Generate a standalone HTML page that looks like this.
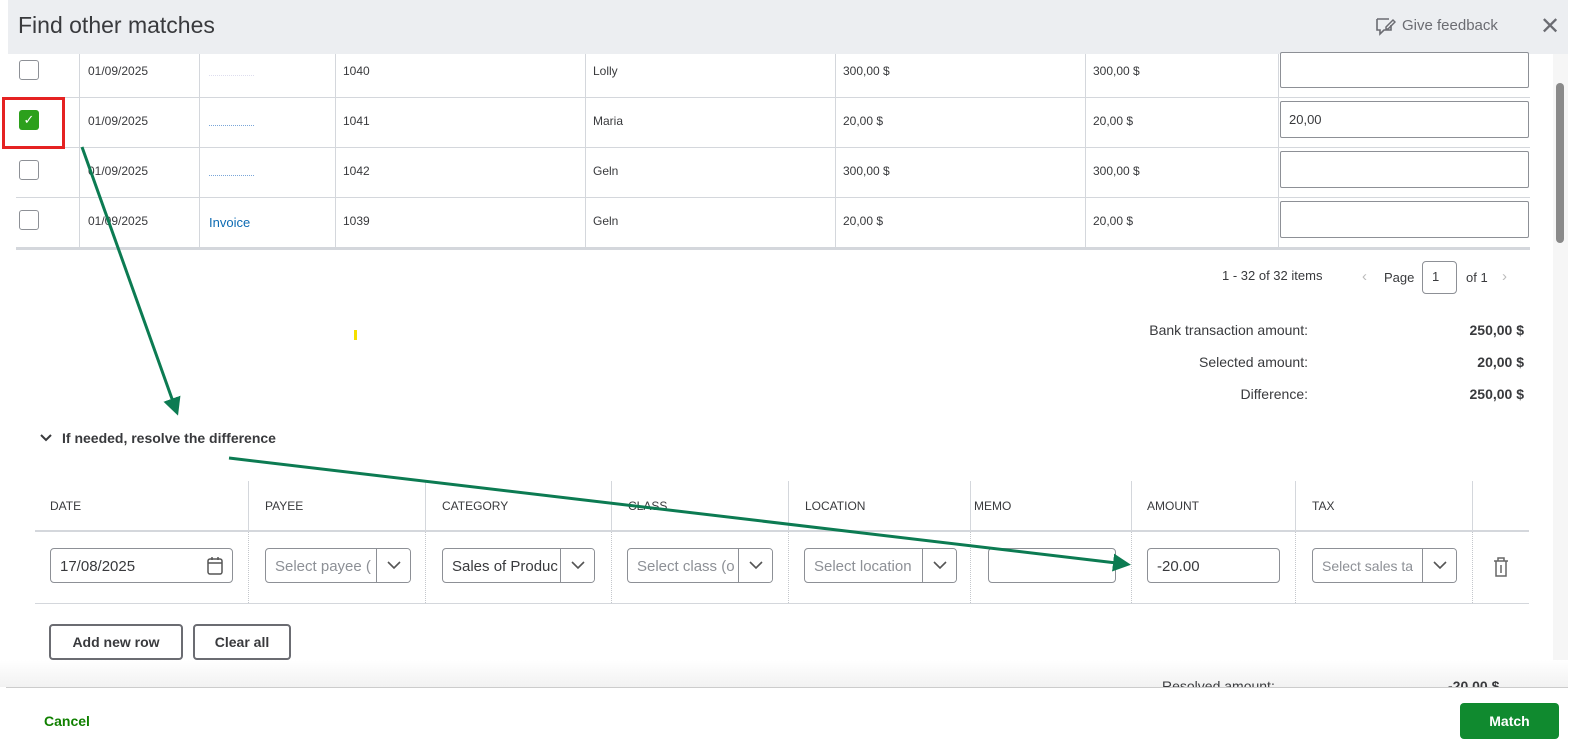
<!DOCTYPE html>
<html><head><meta charset="utf-8"><style>
*{box-sizing:border-box;margin:0;padding:0}
body{width:1588px;height:748px;position:relative;overflow:hidden;background:#fff;font-family:"Liberation Sans",sans-serif;color:#393a3d}
.a{position:absolute}
.t{font-size:12px;color:#393a3d;white-space:nowrap}
.hl{position:absolute;height:1px;background:#d4d7dc}
.vl{position:absolute;width:1px;background:#d4d7dc}
.cb{position:absolute;width:20px;height:20px;border:1px solid #8d9096;border-radius:3px;background:#fff}
.inp{position:absolute;border:1px solid #8d9096;border-radius:2px;background:#fff}
.sel{position:absolute;border:1px solid #8d9096;border-radius:4px;background:#fff;font-size:15px;color:#8d9096;padding:9px 0 0 9px;white-space:nowrap;overflow:hidden}
.sel .dd{position:absolute;right:0;top:0;width:34px;height:100%;border-left:1px solid #8d9096;background:#fff}
.sel .dd svg{position:absolute;left:10px;top:11px}
.dv{position:absolute;width:1px;border-left:1px dotted #c4c7cc}
.th{position:absolute;font-size:12px;color:#393a3d;top:499px}
.bt{position:absolute;border:2px solid #6b6c72;border-radius:4px;font-size:14px;font-weight:bold;text-align:center;padding-top:8px;color:#393a3d;height:36px}
.lb{position:absolute;font-size:14px;text-align:right;width:300px;color:#393a3d}
.vb{position:absolute;font-size:14px;font-weight:bold;text-align:right;width:120px}
</style></head><body>
<div class="a" style="left:8px;top:0;width:1560px;height:54px;background:#eceef1"></div>
<div class="a" style="left:18px;top:12px;font-size:23px;color:#393a3d">Find other matches</div>
<svg class="a" style="left:1374px;top:16px" width="22" height="22" viewBox="0 0 22 22"><path d="M3 3h12M3 3v11h3v4l4-4h7v-5" fill="none" stroke="#6b6c72" stroke-width="1.6"/><path d="M12 11l7-7 2 2-7 7h-2z" fill="none" stroke="#6b6c72" stroke-width="1.5"/></svg>
<div class="a" style="left:1402px;top:17px;font-size:15px;color:#6b6c72">Give feedback</div>
<div class="a" style="left:1540px;top:12px;font-size:24px;color:#6b6c72">✕</div>
<div class="hl" style="left:16px;top:97px;width:1514px"></div>
<div class="hl" style="left:16px;top:147px;width:1514px"></div>
<div class="hl" style="left:16px;top:197px;width:1514px"></div>
<div class="a" style="left:16px;top:247px;width:1514px;height:3px;background:#d4d7dc"></div>
<div class="vl" style="left:79px;top:54px;height:194px"></div>
<div class="vl" style="left:199px;top:54px;height:194px"></div>
<div class="vl" style="left:335px;top:54px;height:194px"></div>
<div class="vl" style="left:585px;top:54px;height:194px"></div>
<div class="vl" style="left:835px;top:54px;height:194px"></div>
<div class="vl" style="left:1085px;top:54px;height:194px"></div>
<div class="vl" style="left:1278px;top:54px;height:194px"></div>
<div class="cb" style="left:19px;top:60px"></div>
<div class="a" style="left:19px;top:110px;width:20px;height:20px;background:#2ca01c;border-radius:3px;color:#fff;font-size:13px;text-align:center;line-height:20px">✓</div>
<div class="a" style="left:2px;top:97px;width:63px;height:52px;border:3px solid #e52222"></div>
<div class="cb" style="left:19px;top:160px"></div>
<div class="cb" style="left:19px;top:210px"></div>
<div class="t a" style="left:88px;top:64px">01/09/2025</div>
<div class="t a" style="left:88px;top:114px">01/09/2025</div>
<div class="t a" style="left:88px;top:164px">01/09/2025</div>
<div class="t a" style="left:88px;top:214px">01/09/2025</div>
<div class="a" style="left:209px;top:75px;width:45px;border-top:1px dotted #dde"></div>
<div class="a" style="left:209px;top:125px;width:45px;border-top:1px dotted #7aa6d8"></div>
<div class="a" style="left:209px;top:175px;width:45px;border-top:1px dotted #7aa6d8"></div>
<div class="a" style="left:209px;top:215px;font-size:13px;color:#0d6bb3">Invoice</div>
<div class="t a" style="left:343px;top:64px">1040</div><div class="t a" style="left:343px;top:114px">1041</div>
<div class="t a" style="left:343px;top:164px">1042</div><div class="t a" style="left:343px;top:214px">1039</div>
<div class="t a" style="left:593px;top:64px">Lolly</div><div class="t a" style="left:593px;top:114px">Maria</div>
<div class="t a" style="left:593px;top:164px">Geln</div><div class="t a" style="left:593px;top:214px">Geln</div>
<div class="t a" style="left:843px;top:64px">300,00 $</div><div class="t a" style="left:843px;top:114px">20,00 $</div>
<div class="t a" style="left:843px;top:164px">300,00 $</div><div class="t a" style="left:843px;top:214px">20,00 $</div>
<div class="t a" style="left:1093px;top:64px">300,00 $</div><div class="t a" style="left:1093px;top:114px">20,00 $</div>
<div class="t a" style="left:1093px;top:164px">300,00 $</div><div class="t a" style="left:1093px;top:214px">20,00 $</div>
<div class="inp" style="left:1280px;top:52px;width:249px;height:36px"></div>
<div class="inp" style="left:1280px;top:101px;width:249px;height:37px;font-size:13px;padding:10px 8px">20,00</div>
<div class="inp" style="left:1280px;top:151px;width:249px;height:37px"></div>
<div class="inp" style="left:1280px;top:201px;width:249px;height:37px"></div>
<div class="a" style="left:1553px;top:54px;width:15px;height:634px;background:#f6f6f6"></div>
<div class="a" style="left:1556px;top:83px;width:8px;height:160px;background:#8a8a8a;border-radius:4px"></div>
<div class="a" style="left:1222px;top:268px;font-size:13px;color:#393a3d">1 - 32 of 32 items</div>
<div class="a" style="left:1362px;top:268px;font-size:15px;color:#bbb">‹</div>
<div class="a" style="left:1384px;top:270px;font-size:13px">Page</div>
<div class="a" style="left:1422px;top:261px;width:35px;height:33px;border:1px solid #8d9096;border-radius:4px;font-size:13px;padding:7px 0 0 9px">1</div>
<div class="a" style="left:1466px;top:270px;font-size:13px">of 1</div>
<div class="a" style="left:1502px;top:268px;font-size:15px;color:#bbb">›</div>
<div class="lb" style="left:1008px;top:322px">Bank transaction amount:</div>
<div class="lb" style="left:1008px;top:354px">Selected amount:</div>
<div class="lb" style="left:1008px;top:386px">Difference:</div>
<div class="vb" style="left:1404px;top:322px">250,00 $</div>
<div class="vb" style="left:1404px;top:354px">20,00 $</div>
<div class="vb" style="left:1404px;top:386px">250,00 $</div>
<div class="a" style="left:354px;top:330px;width:3px;height:10px;background:#f5e000"></div>
<svg class="a" style="left:39px;top:433px" width="14" height="10"><path d="M2 2l5 5 5-5" fill="none" stroke="#393a3d" stroke-width="2"/></svg>
<div class="a" style="left:62px;top:430px;font-size:14px;font-weight:bold">If needed, resolve the difference</div>
<div class="vl" style="left:248px;top:481px;height:50px"></div>
<div class="vl" style="left:425px;top:481px;height:50px"></div>
<div class="vl" style="left:611px;top:481px;height:50px"></div>
<div class="vl" style="left:788px;top:481px;height:50px"></div>
<div class="vl" style="left:970px;top:481px;height:50px"></div>
<div class="vl" style="left:1131px;top:481px;height:50px"></div>
<div class="vl" style="left:1295px;top:481px;height:50px"></div>
<div class="vl" style="left:1472px;top:481px;height:50px"></div>
<div class="th" style="left:50px">DATE</div><div class="th" style="left:265px">PAYEE</div>
<div class="th" style="left:442px">CATEGORY</div><div class="th" style="left:628px">CLASS</div>
<div class="th" style="left:805px">LOCATION</div><div class="th" style="left:974px">MEMO</div>
<div class="th" style="left:1147px">AMOUNT</div><div class="th" style="left:1312px">TAX</div>
<div class="a" style="left:35px;top:530px;width:1494px;height:2px;background:#d4d7dc"></div>
<div class="hl" style="left:35px;top:603px;width:1494px"></div>
<div class="dv" style="left:248px;top:532px;height:71px"></div><div class="dv" style="left:425px;top:532px;height:71px"></div>
<div class="dv" style="left:611px;top:532px;height:71px"></div><div class="dv" style="left:788px;top:532px;height:71px"></div>
<div class="dv" style="left:970px;top:532px;height:71px"></div><div class="dv" style="left:1131px;top:532px;height:71px"></div>
<div class="dv" style="left:1295px;top:532px;height:71px"></div><div class="dv" style="left:1472px;top:532px;height:71px"></div>
<div class="sel" style="left:50px;top:548px;width:183px;height:35px;color:#393a3d">17/08/2025<svg class="a" style="left:155px;top:7px" width="18" height="20"><rect x="2" y="3" width="14" height="15" rx="2" fill="none" stroke="#555" stroke-width="1.5"/><line x1="2" y1="7" x2="16" y2="7" stroke="#555" stroke-width="1.5"/><line x1="6" y1="1" x2="6" y2="4" stroke="#555" stroke-width="1.5"/><line x1="12" y1="1" x2="12" y2="4" stroke="#555" stroke-width="1.5"/></svg></div>
<div class="sel" style="left:265px;top:548px;width:146px;height:35px">Select payee (<div class="dd"><svg width="14" height="10"><path d="M1 2l6 6 6-6" fill="none" stroke="#555" stroke-width="1.6"/></svg></div></div>
<div class="sel" style="left:442px;top:548px;width:153px;height:35px;color:#393a3d">Sales of Produc<div class="dd"><svg width="14" height="10"><path d="M1 2l6 6 6-6" fill="none" stroke="#555" stroke-width="1.6"/></svg></div></div>
<div class="sel" style="left:627px;top:548px;width:146px;height:35px">Select class (o<div class="dd"><svg width="14" height="10"><path d="M1 2l6 6 6-6" fill="none" stroke="#555" stroke-width="1.6"/></svg></div></div>
<div class="sel" style="left:804px;top:548px;width:153px;height:35px">Select location<div class="dd"><svg width="14" height="10"><path d="M1 2l6 6 6-6" fill="none" stroke="#555" stroke-width="1.6"/></svg></div></div>
<div class="sel" style="left:988px;top:548px;width:128px;height:35px"></div>
<div class="sel" style="left:1147px;top:548px;width:133px;height:35px;color:#393a3d">-20.00</div>
<div class="sel" style="left:1312px;top:548px;width:145px;height:35px;font-size:14px">Select sales ta<div class="dd"><svg width="14" height="10"><path d="M1 2l6 6 6-6" fill="none" stroke="#555" stroke-width="1.6"/></svg></div></div>
<svg class="a" style="left:1492px;top:556px" width="18" height="22"><path d="M2 5h14M6 5V2h6v3M4 5v15h10V5M9 9v8" fill="none" stroke="#666" stroke-width="1.5"/></svg>
<div class="bt" style="left:49px;top:624px;width:134px">Add new row</div>
<div class="bt" style="left:193px;top:624px;width:98px">Clear all</div>
<div class="a" style="left:0;top:660px;width:1568px;height:27px;background:linear-gradient(#fff,#f2f2f2)"></div>
<div class="a" style="left:1162px;top:678px;font-size:14px;color:#393a3d;height:9px;overflow:hidden">Resolved amount:</div>
<div class="a" style="left:1448px;top:678px;font-size:14px;font-weight:bold;height:9px;overflow:hidden">-20,00 $</div>
<div class="hl" style="left:6px;top:687px;width:1562px;background:#ccc"></div>
<div class="a" style="left:44px;top:713px;font-size:14px;font-weight:bold;color:#108000">Cancel</div>
<div class="a" style="left:1460px;top:703px;width:99px;height:36px;background:#108a2f;border-radius:4px;color:#fff;font-size:14px;font-weight:bold;text-align:center;line-height:36px">Match</div>
<svg class="a" style="left:0;top:0" width="1588" height="748">
<defs><marker id="m" markerWidth="6" markerHeight="6" refX="4" refY="3" orient="auto"><path d="M0,0 L6,3 L0,6 z" fill="#0c7b52"/></marker></defs>
<line x1="82" y1="147" x2="176" y2="410" stroke="#0c7b52" stroke-width="3" marker-end="url(#m)"/>
<line x1="229" y1="458" x2="1125" y2="564" stroke="#0c7b52" stroke-width="3" marker-end="url(#m)"/>
</svg>
</body></html>
